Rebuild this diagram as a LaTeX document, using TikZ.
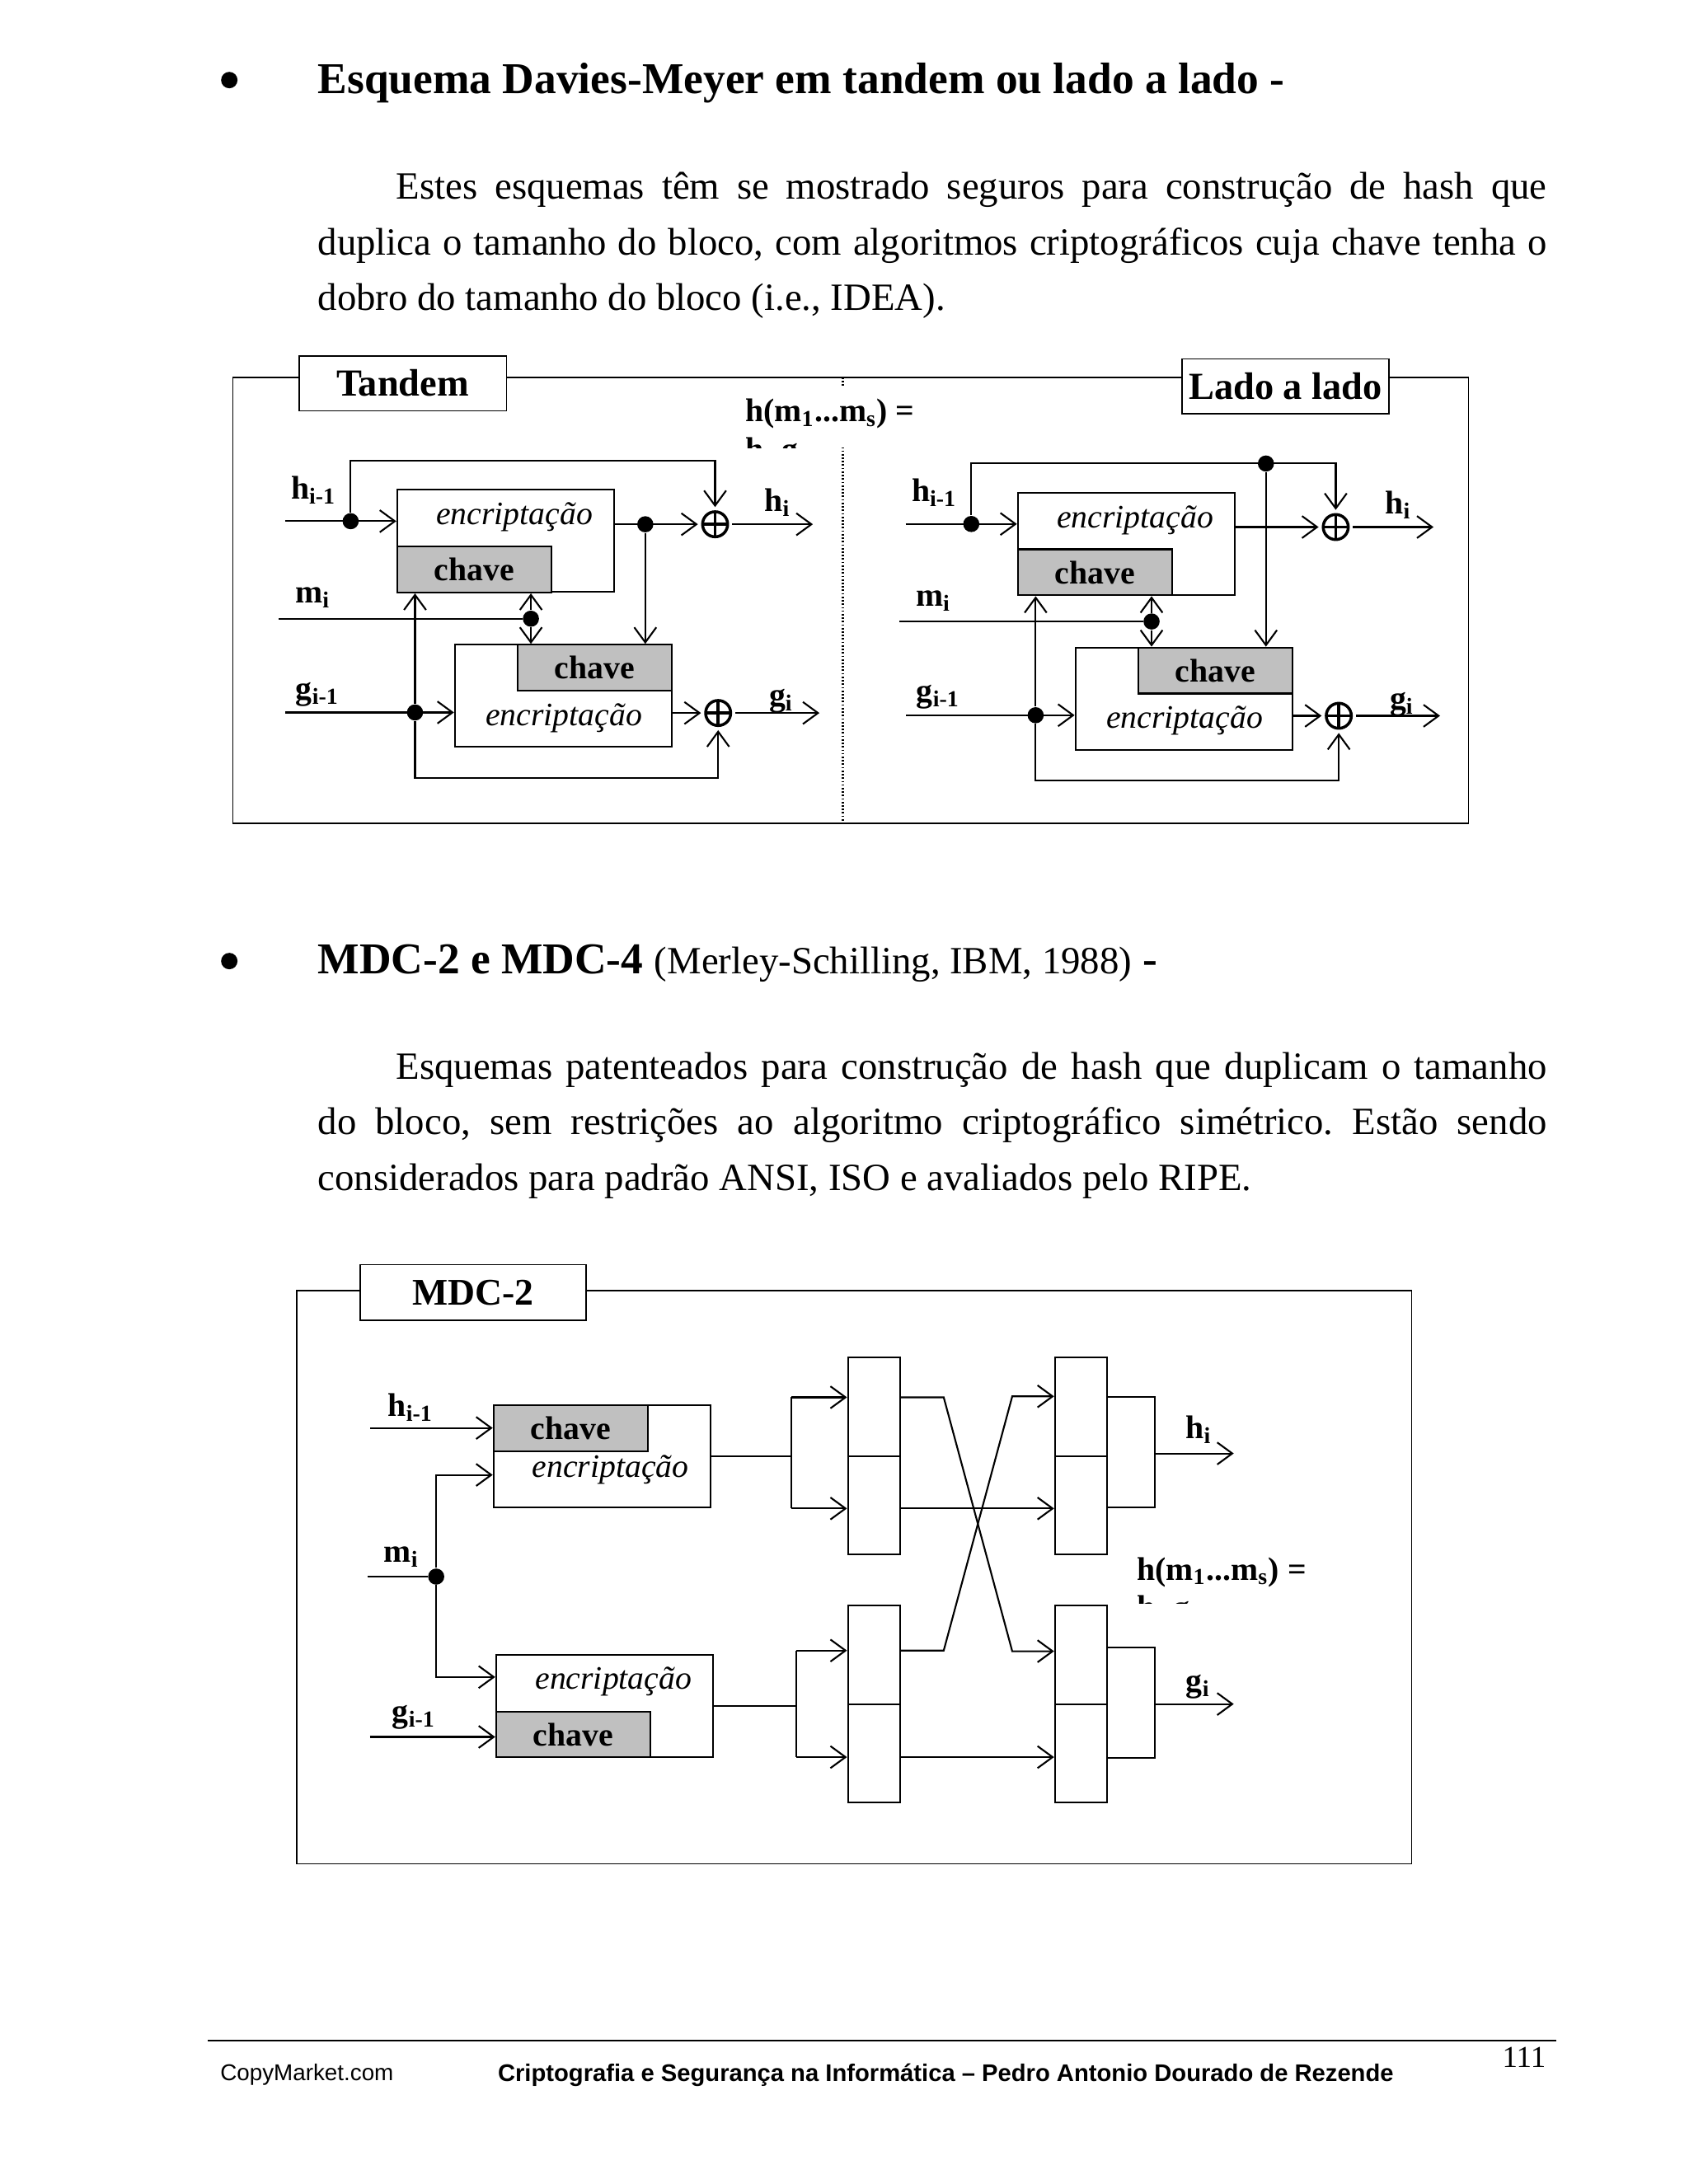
\documentclass[tikz,border=0pt]{standalone}
\usepackage{fontspec}
\setmainfont{Liberation Serif}
\setsansfont{Liberation Sans}
\usetikzlibrary{arrows.meta}
\definecolor{keygray}{HTML}{C0C0C0}
\newlength{\ux}
\setlength{\ux}{0.016898cm}
\frenchspacing

\begin{document}
\begin{tikzpicture}[x=0.016898cm, y=-0.016898cm,
  wire/.style={line width=0.6pt},
  arr/.style={line width=0.6pt, -{Straight Barb[length=5.2pt,width=7.6pt]}},
  frame/.style={draw, line width=0.45pt, inner sep=0},
  tag/.style={draw, fill=white, line width=0.5pt, minimum height=39.6\ux, inner sep=0,
    font=\fontsize{13.2}{15}\selectfont\bfseries},
  encbox/.style={draw, fill=white, line width=0.6pt, minimum width=155.8\ux, minimum height=73.4\ux, inner sep=0},
  keybox/.style={draw, fill=keygray, line width=0.6pt, minimum width=110.8\ux, minimum height=33\ux, inner sep=0,
    font=\fontsize{11.3}{13}\selectfont\bfseries},
  enctxt/.style={anchor=base west, inner sep=0, font=\fontsize{11.3}{13}\selectfont\itshape},
  sig/.style={anchor=base west, inner sep=0, font=\fontsize{11.3}{13}\selectfont\bfseries},
  junc/.style={circle, fill, inner sep=0, minimum size=11.6\ux},
  xor/.style={circle, draw, line width=1pt, minimum size=18\ux, inner sep=0, outer sep=1.6pt,
    path picture={\draw[line width=1pt] (path picture bounding box.north) -- (path picture bounding box.south)
      (path picture bounding box.west) -- (path picture bounding box.east);}},
  cell/.style={draw, line width=0.6pt, minimum width=37.6\ux, minimum height=70.8\ux, inner sep=0},
  body/.style={anchor=base west, inner sep=0, font=\fontsize{13.3}{16}\selectfont},
  head/.style={anchor=base west, inner sep=0, font=\fontsize{15.2}{18}\selectfont\bfseries},
  bulletdot/.style={circle, fill, inner sep=0, minimum size=11.8\ux}]

\fill[white] (0,0) rectangle (1212,1568);
\useasboundingbox (0,0) rectangle (1212,1568);

% first section
\node[bulletdot] (bul1) at (164.6,57.5) {};
\node[head] (head1) at (227.8,67) {Esquema Davies-Meyer em tandem ou lado a lado -};
\node[body] (par1a) at (284,143) {\makebox[826\ux][s]{Estes esquemas têm se mostrado seguros para construção de hash que}};
\node[body] (par1b) at (227.8,182.9) {\makebox[882.2\ux][s]{duplica o tamanho do bloco, com algoritmos criptográficos cuja chave tenha o}};
\node[body] (par1c) at (227.8,222.9) {dobro do tamanho do bloco (i.e., IDEA).};

% tandem / lado a lado
\node[frame, minimum width=887.1\ux, minimum height=320.1\ux] (fr1) at (610.65,431.05) {};
\coordinate (divtop) at (605,271);
\coordinate (divbot) at (605,591.1);
\draw[line width=0.6pt, dash pattern=on 0.5pt off 0.7pt] (divtop) -- (divbot);
\node[tag, minimum width=149\ux] (tagT) at (289.1,275.2) {Tandem};
\node[tag, minimum width=148.3\ux] (tagL) at (922.75,277.45) {Lado a lado};

\begin{scope}
  \clip (528,278) rectangle (662,321.5);
  \fill[white] (528,278) rectangle (662,321.5);
  \node[sig] (hmsA) at (534.6,302.8) {h(m\textsubscript{1}...m\textsubscript{s}) =};
  \node[sig] (hmsA2) at (534.6,330.4) {h\textsubscript{s} g\textsubscript{s}};
\end{scope}

\foreach \p/\dx/\dy/\ty in {t/0/0/376.4, l/445.5/2/330.8} {
\begin{scope}[shift={(\dx,\dy)}]
  \node[encbox] (\p-enc1) at (363,388.4) {};
  \node[keybox] (\p-key1) at (340.5,408.9) {chave};
  \node[encbox] (\p-enc2) at (404.4,499.6) {};
  \node[keybox] (\p-key2) at (426.9,479.4) {chave};
  \node[enctxt] (\p-e1) at (312.7,376.8) {encriptação};
  \node[enctxt] (\p-e2) at (348.2,520.8) {encriptação};

  \node[xor] (\p-xor1) at (513.3,376.4) {};
  \node[xor] (\p-xor2) at (515.5,511.9) {};

  \coordinate (\p-hin) at (204.6,374.2);
  \coordinate (\p-min) at (200.2,444.2);
  \coordinate (\p-gin) at (205,511.5);
  \coordinate (\p-top) at (251.7,330.8);
  \coordinate (\p-bot) at (297.9,558.3);
  \coordinate (\p-hout) at (583.5,376.4);
  \coordinate (\p-gout) at (588.2,511.9);
  \node[junc] (\p-hdot) at (251.7,374.2) {};
  \node[junc] (\p-mdot) at (381.1,444.2) {};
  \node[junc] (\p-gdot) at (297.9,511.5) {};
  \node[junc] (\p-dot2) at (463.2,\ty) {};

  \draw[arr] (\p-hin) -- (\p-hin -| \p-enc1.west);
  \draw[arr] (\p-hdot) -- (\p-top) -| (\p-xor1.north);
  \draw[arr] (\p-enc1.east |- \p-xor1) -- (\p-xor1);
  \draw[arr] (\p-dot2) -- (\p-dot2 |- \p-key2.north);
  \draw[arr] (\p-xor1) -- (\p-hout);
  \draw[wire] (\p-min) -- (\p-mdot);
  \draw[arr] (\p-mdot) -- (\p-mdot |- \p-key1.south);
  \draw[arr] (\p-mdot) -- (\p-mdot |- \p-key2.north);
  \draw[arr] (\p-gin) -- (\p-gin -| \p-enc2.west);
  \draw[arr] (\p-gdot) -- (\p-gdot |- \p-key1.south);
  \draw[arr] (\p-gdot) -- (\p-bot) -| (\p-xor2.south);
  \draw[arr] (\p-enc2.east |- \p-xor2) -- (\p-xor2);
  \draw[arr] (\p-xor2) -- (\p-gout);

  \node[sig] (\p-lh) at (208.5,358) {h\textsubscript{i-1}};
  \node[sig] (\p-lm) at (211.5,433) {m\textsubscript{i}};
  \node[sig] (\p-lg) at (212,502) {g\textsubscript{i-1}};
  \node[sig] (\p-lhi) at (548.4,366.9) {h\textsubscript{i}};
  \node[sig] (\p-lgi) at (551.7,507) {g\textsubscript{i}};
\end{scope}
}

% second section
\node[bulletdot] (bul2) at (164.6,690) {};
\node[head] (head2) at (227.8,699) {MDC-2 e MDC-4 {\fontsize{13.3}{16}\selectfont\mdseries (Merley-Schilling, IBM, 1988)} -};
\node[body] (par2a) at (284,775) {\makebox[826\ux][s]{Esquemas patenteados para construção de hash que duplicam o tamanho}};
\node[body] (par2b) at (227.8,814.7) {\makebox[882.2\ux][s]{do bloco, sem restrições ao algoritmo criptográfico simétrico. Estão sendo}};
\node[body] (par2c) at (227.8,854.5) {considerados para padrão ANSI, ISO e avaliados pelo RIPE.};

% MDC-2
\node[frame, minimum width=800.3\ux, minimum height=411.7\ux] (fr2) at (613.05,1132.35) {};
\node[tag, minimum width=162.4\ux, minimum height=40\ux, font=\fontsize{13}{15}\selectfont\bfseries] (tagM) at (339.6,928) {MDC-2};

\node[encbox] (encU) at (432.2,1045.6) {};
\node[keybox] (keyU) at (409.7,1025.3) {chave};
\node[encbox] (encL) at (434,1225) {};
\node[keybox] (keyL) at (411.5,1245.2) {chave};
\node[enctxt] (eU) at (381.7,1060.9) {encriptação};
\node[enctxt] (eL) at (383.8,1212.6) {encriptação};

\node[cell] (rUL1) at (627.4,1009.9) {};
\node[cell] (rUL2) at (627.4,1080.7) {};
\node[cell] (rLL1) at (627.4,1188) {};
\node[cell] (rLL2) at (627.4,1258.8) {};
\node[cell] (rUR1) at (776.05,1009.9) {};
\node[cell] (rUR2) at (776.05,1080.7) {};
\node[cell] (rLR1) at (776.05,1188) {};
\node[cell] (rLR2) at (776.05,1258.8) {};

\coordinate (hinM) at (265.7,1025.2);
\coordinate (minM) at (263.7,1131.9);
\coordinate (ginM) at (265.5,1247);
\coordinate (muM) at (313.1,1058.9);
\coordinate (mdM) at (313.1,1204);
\node[junc] (mdotM) at (313.1,1131.9) {};
\coordinate (sU1) at (568.2,1003.2);
\coordinate (sU2) at (568.2,1083);
\coordinate (sL1) at (571.6,1185);
\coordinate (sL2) at (571.6,1261.5);
\coordinate (cA) at (677.4,1003.2);
\coordinate (cB) at (726.6,1185.5);
\coordinate (cC) at (677.4,1185);
\coordinate (cD) at (726.6,1002.5);
\coordinate (bUt) at (828.9,1003.1);
\coordinate (bUb) at (828.9,1082.4);
\coordinate (bLt) at (828.9,1182.6);
\coordinate (bLb) at (828.9,1262.2);
\coordinate (hoM) at (885.6,1043.5);
\coordinate (goM) at (885.6,1223.4);

\draw[arr] (hinM) -- (hinM -| encU.west);
\draw[wire] (minM) -- (mdotM);
\draw[arr] (mdotM) -- (muM) -- (muM -| encU.west);
\draw[arr] (mdotM) -- (mdM) -- (mdM -| encL.west);
\draw[arr] (ginM) -- (ginM -| encL.west);

\draw[wire] (encU.east) -- (encU.east -| sU1);
\draw[wire] (sU1) -- (sU2);
\draw[arr] (sU1) -- (sU1 -| rUL1.west);
\draw[arr] (sU2) -- (sU2 -| rUL2.west);
\draw[wire] (encL.east) -- (encL.east -| sL1);
\draw[wire] (sL1) -- (sL2);
\draw[arr] (sL1) -- (sL1 -| rLL1.west);
\draw[arr] (sL2) -- (sL2 -| rLL2.west);

\draw[arr] (rUL1.east |- cA) -- (cA) -- (cB) -- (cB -| rLR1.west);
\draw[arr] (rLL1.east |- cC) -- (cC) -- (cD) -- (cD -| rUR1.west);
\draw[arr] (rUL2.east |- sU2) -- (sU2 -| rUR2.west);
\draw[arr] (rLL2.east |- sL2) -- (sL2 -| rLR2.west);

\draw[wire] (rUR1.east |- bUt) -- (bUt) -- (bUb) -- (rUR2.east |- bUb);
\draw[arr] (bUt |- hoM) -- (hoM);
\draw[wire] (rLR1.east |- bLt) -- (bLt) -- (bLb) -- (rLR2.east |- bLb);
\draw[arr] (bLt |- goM) -- (goM);

\node[sig] (lhM) at (278.1,1016.9) {h\textsubscript{i-1}};
\node[sig] (lmM) at (275.2,1121.4) {m\textsubscript{i}};
\node[sig] (lgM) at (281.2,1236.4) {g\textsubscript{i-1}};
\node[sig] (lhiM) at (850.8,1032.7) {h\textsubscript{i}};
\node[sig] (lgiM) at (851,1214.2) {g\textsubscript{i}};

\begin{scope}
  \clip (810,1110) rectangle (960,1151.4);
  \node[sig] (hmsM) at (815.7,1134.3) {h(m\textsubscript{1}...m\textsubscript{s}) =};
  \node[sig] (hmsM2) at (815.7,1161.9) {h\textsubscript{s} g\textsubscript{s}};
\end{scope}

% footer
\coordinate (rulel) at (149.3,1465);
\coordinate (ruler) at (1117,1465);
\draw[line width=0.8pt] (rulel) -- (ruler);
\node[anchor=base west, inner sep=0, font=\sffamily\fontsize{7.9}{9}\selectfont] (copym) at (157.8,1494) {CopyMarket.com};
\node[anchor=base west, inner sep=0, font=\sffamily\bfseries\fontsize{8.3}{10}\selectfont] (ftitle) at (357,1494.5) {Criptografia e Segurança na Informática – Pedro Antonio Dourado de Rezende};
\node[anchor=base east, inner sep=0, font=\fontsize{10.5}{12}\selectfont] (pgno) at (1110,1484) {111};
\end{tikzpicture}
\end{document}
